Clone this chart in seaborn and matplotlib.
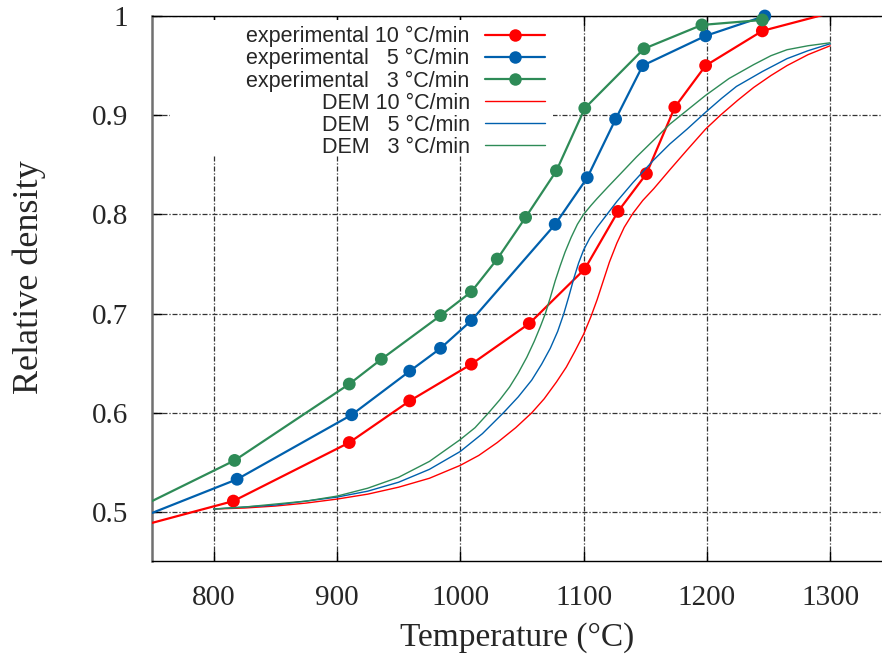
import matplotlib
matplotlib.use('Agg')
import matplotlib.pyplot as plt
import seaborn as sns
import pandas as pd
from matplotlib.lines import Line2D
from matplotlib.patches import Rectangle

# ---------------- data ----------------
# experimental points
temp_10 = [816, 910, 959, 1009, 1056, 1101, 1128, 1151, 1174, 1199, 1245]
rho_10 = [0.511, 0.570, 0.612, 0.649, 0.690, 0.745, 0.803, 0.841, 0.908, 0.950, 0.985]
temp_5 = [819, 912, 959, 984, 1009, 1077, 1103, 1126, 1148, 1199, 1247]
rho_5 = [0.533, 0.598, 0.642, 0.665, 0.693, 0.790, 0.837, 0.896, 0.950, 0.980, 1.000]
temp_3 = [817, 910, 936, 984, 1009, 1030, 1053, 1078, 1101, 1149, 1196, 1245]
rho_3 = [0.552, 0.629, 0.654, 0.698, 0.722, 0.755, 0.797, 0.844, 0.907, 0.967, 0.991, 0.996]

# extrapolated ends of the experimental curves (no markers)
ext_start_10, ext_end_10 = (750, 0.489), (1300, 1.003)
ext_start_5 = (750, 0.499)
ext_start_3 = (750, 0.511)

# DEM curves
dem_t_10 = [800, 825, 850, 875, 900, 925, 950, 975, 1000, 1015, 1030, 1045, 1058, 1068,
            1078, 1086, 1093, 1100, 1106, 1111, 1116, 1121, 1127, 1133, 1140, 1148, 1157,
            1170, 1184, 1199, 1211, 1225, 1238, 1252, 1265, 1282, 1300]
dem_r_10 = [0.503, 0.504, 0.506, 0.509, 0.513, 0.518, 0.525, 0.534, 0.547, 0.557, 0.570,
            0.585, 0.600, 0.614, 0.631, 0.646, 0.662, 0.679, 0.697, 0.714, 0.733, 0.752,
            0.771, 0.787, 0.801, 0.814, 0.826, 0.845, 0.865, 0.886, 0.900, 0.915, 0.928,
            0.940, 0.950, 0.961, 0.970]
dem_t_5 = [800, 825, 850, 875, 900, 925, 950, 975, 1000, 1018, 1035, 1047, 1058, 1066,
           1073, 1079, 1084, 1088, 1092, 1096, 1100, 1105, 1111, 1119, 1127, 1140, 1157,
           1170, 1184, 1199, 1212, 1224, 1245, 1265, 1282, 1300]
dem_r_5 = [0.503, 0.505, 0.507, 0.511, 0.515, 0.521, 0.530, 0.543, 0.561, 0.579, 0.600,
           0.616, 0.633, 0.649, 0.665, 0.682, 0.700, 0.717, 0.735, 0.751, 0.764, 0.776,
           0.787, 0.800, 0.813, 0.832, 0.855, 0.871, 0.886, 0.903, 0.917, 0.929, 0.944,
           0.957, 0.965, 0.972]
dem_t_3 = [800, 825, 850, 875, 900, 925, 950, 975, 1000, 1012, 1023, 1032, 1040, 1047,
           1054, 1060, 1065, 1069, 1073, 1077, 1081, 1085, 1090, 1095, 1100, 1106, 1111,
           1120, 1130, 1143, 1157, 1170, 1184, 1199, 1218, 1238, 1252, 1265, 1282, 1300]
dem_r_3 = [0.503, 0.505, 0.508, 0.511, 0.516, 0.524, 0.535, 0.551, 0.573, 0.585, 0.600,
           0.613, 0.626, 0.640, 0.656, 0.672, 0.687, 0.700, 0.716, 0.733, 0.748, 0.762,
           0.777, 0.790, 0.800, 0.809, 0.816, 0.828, 0.841, 0.858, 0.875, 0.891, 0.905,
           0.920, 0.937, 0.951, 0.960, 0.966, 0.970, 0.973]

labels = ['experimental 10 °C/min', 'experimental   5 °C/min', 'experimental   3 °C/min',
          'DEM 10 °C/min', 'DEM   5 °C/min', 'DEM   3 °C/min']
x_ticks = [800, 900, 1000, 1100, 1200, 1300]
y_ticks = [0.5, 0.6, 0.7, 0.8, 0.9, 1.0]
y_tick_labels = ['0.5', '0.6', '0.7', '0.8', '0.9', '1']

c_red, c_blue, c_green = '#ff0000', '#0060ad', '#2e8b57'

# ---------------- figure ----------------
sns.set_theme(style='white')
plt.rcParams['font.family'] = ['Liberation Serif', 'DejaVu Serif']

fig = plt.figure(figsize=(8.82, 6.62), dpi=100)
ax = fig.add_axes([152 / 882, 1 - 561 / 662, 730 / 882, 545 / 662])

exp_series = [
    (temp_10, rho_10, [ext_start_10], [ext_end_10], c_red),
    (temp_5, rho_5, [ext_start_5], [], c_blue),
    (temp_3, rho_3, [ext_start_3], [], c_green),
]
for t, r, pre, post, col in exp_series:
    xs = [p[0] for p in pre] + list(t) + [p[0] for p in post]
    ys = [p[1] for p in pre] + list(r) + [p[1] for p in post]
    df = pd.DataFrame({'T': xs, 'rho': ys})
    sns.lineplot(data=df, x='T', y='rho', ax=ax, color=col, lw=1.6,
                 sort=False, estimator=None, legend=False, zorder=3)
    sns.scatterplot(x=t, y=r, ax=ax, color=col, s=85, edgecolor='none',
                    legend=False, zorder=4, clip_on=False)

for t, r, col in [(dem_t_10, dem_r_10, c_red), (dem_t_5, dem_r_5, c_blue),
                  (dem_t_3, dem_r_3, c_green)]:
    df = pd.DataFrame({'T': t, 'rho': r})
    sns.lineplot(data=df, x='T', y='rho', ax=ax, color=col, lw=1.0,
                 sort=False, estimator=None, legend=False, zorder=5)

ax.set_xlim(750, 750 + 730 / 1.233)
ax.set_ylim(0.4506, 1.0)
ax.set_xticks(x_ticks)
ax.set_xticklabels([str(v) for v in x_ticks])
ax.set_yticks(y_ticks)
ax.set_yticklabels(y_tick_labels)

ax.grid(True, color='#333333', linestyle=(0, (4, 1.5, 1, 1.5)), lw=0.9)
ax.set_axisbelow(True)

ax.tick_params(axis='both', direction='in', length=7, width=1.0, color='black',
               labelsize=21, top=True, bottom=True, left=True, right=False)
ax.tick_params(axis='x', pad=17)
ax.tick_params(axis='y', pad=17)

for s in ['top', 'bottom']:
    ax.spines[s].set_color('black')
    ax.spines[s].set_linewidth(1.0)
ax.spines['left'].set_color('#707070')
ax.spines['left'].set_linewidth(1.8)
ax.spines['right'].set_visible(False)

ax.set_xlabel('Temperature (°C)', fontsize=24, labelpad=8)
ax.set_ylabel('Relative density', fontsize=26)
ax.yaxis.set_label_coords((46 - 152) / 730, (561 - 277) / 545)

# opaque legend background (covers grid)
x0, y0 = ax.transAxes.inverted().transform(fig.transFigure.transform((170 / 882, 1 - 155 / 662)))
x1, y1 = ax.transAxes.inverted().transform(fig.transFigure.transform((553 / 882, 1 - 20 / 662)))
ax.add_patch(Rectangle((x0, y0), x1 - x0, y1 - y0, transform=ax.transAxes,
                       facecolor='white', edgecolor='none', zorder=1))

handles = [
    Line2D([], [], color=c_red, lw=1.6, marker='o', markersize=9, markeredgewidth=0),
    Line2D([], [], color=c_blue, lw=1.6, marker='o', markersize=9, markeredgewidth=0),
    Line2D([], [], color=c_green, lw=1.6, marker='o', markersize=9, markeredgewidth=0),
    Line2D([], [], color=c_red, lw=1.0),
    Line2D([], [], color=c_blue, lw=1.0),
    Line2D([], [], color=c_green, lw=1.0),
]
leg = ax.legend(handles, labels, loc='upper right', markerfirst=False,
                bbox_to_anchor=(545 / 882, 1 - 26 / 662), bbox_transform=fig.transFigure,
                frameon=False, borderpad=0, borderaxespad=0, handlelength=2.8,
                handletextpad=0.7, labelspacing=0.05,
                prop={'family': ['Liberation Sans', 'DejaVu Sans'], 'size': 15.5})

fig.savefig('out.png', dpi=100)
